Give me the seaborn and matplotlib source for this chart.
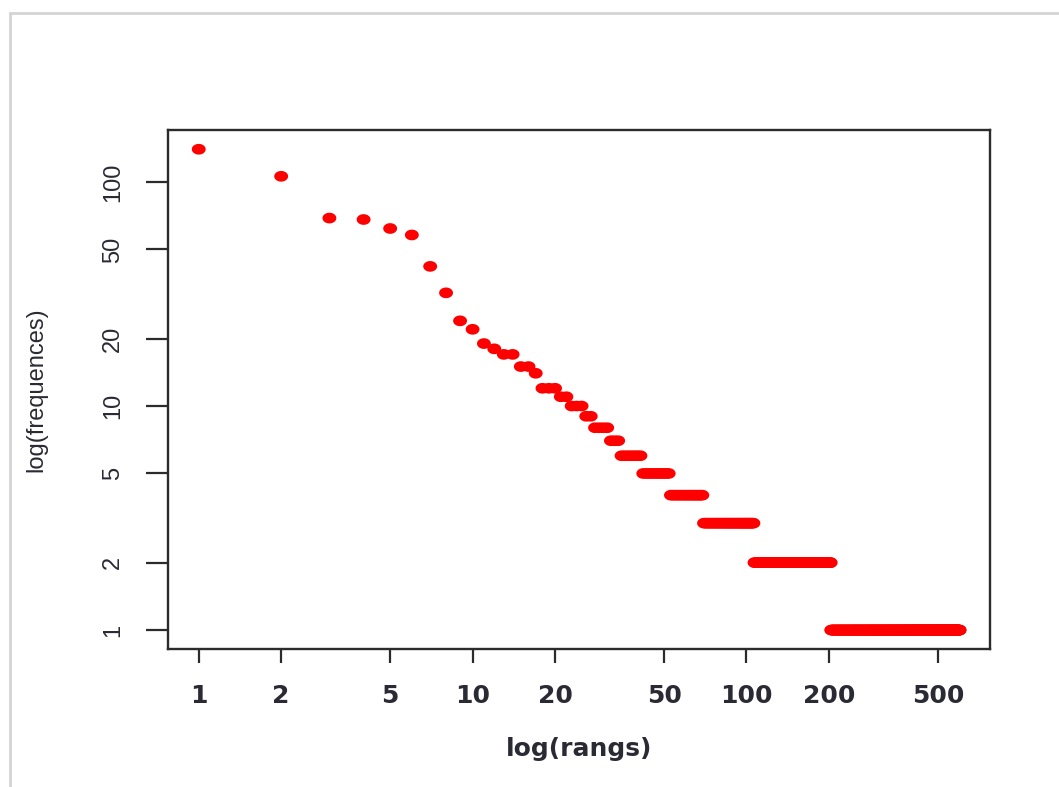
import numpy as np
import pandas as pd
import matplotlib
matplotlib.use("Agg")
import matplotlib.pyplot as plt
from matplotlib.path import Path
from matplotlib.lines import Line2D
import seaborn as sns

# ---- data (Zipf plot: rank vs frequency) ----
top_freqs = [140, 106, 69, 68, 62, 58, 42, 32, 24, 22, 19, 18]          # ranks 1..12
plateau_levels = [17, 15, 14, 12, 11, 10, 9, 8, 7, 6, 5, 4, 3, 2, 1]    # following frequencies
plateau_counts = [2, 2, 1, 3, 2, 3, 2, 4, 3, 7, 11, 17, 37, 97, 397]     # how many ranks share each
x_ticks = [1, 2, 5, 10, 20, 50, 100, 200, 500]
y_ticks = [1, 2, 5, 10, 20, 50, 100]
x_label = "log(rangs)"
y_label = "log(frequences)"

freqs = list(top_freqs)
for lvl, cnt in zip(plateau_levels, plateau_counts):
    freqs += [lvl] * cnt
ranks = np.arange(1, len(freqs) + 1)
df = pd.DataFrame({"rang": ranks, "freq": freqs})

sns.set_style("ticks")
plt.rcParams["font.family"] = ["Liberation Sans", "DejaVu Sans"]

W, H = 1059, 787
fig = plt.figure(figsize=(W / 100, H / 100), dpi=100)
L, R, T, B = 168.3, 990.0, 130.0, 649.3
ax = fig.add_axes([L / W, 1 - B / H, (R - L) / W, (B - T) / H])

# elliptical marker (reference is horizontally stretched)
t = np.linspace(0, 2 * np.pi, 60)
ell = Path(np.column_stack([np.cos(t), 0.77 * np.sin(t)]), closed=True)

sns.scatterplot(data=df, x="rang", y="freq", ax=ax, marker=ell, s=100,
                color="#ff0000", linewidth=0, edgecolor="none", legend=False)

ax.set_xscale("log")
ax.set_yscale("log")

def rlim(vals):
    lo, hi = np.log10(min(vals)), np.log10(max(vals))
    pad = 0.04 * (hi - lo)
    return 10 ** (lo - pad), 10 ** (hi + pad)

ax.set_xlim(*rlim(ranks))
ax.set_ylim(*rlim(freqs))

ax.xaxis.set_major_locator(matplotlib.ticker.FixedLocator(x_ticks))
ax.yaxis.set_major_locator(matplotlib.ticker.FixedLocator(y_ticks))
ax.xaxis.set_minor_locator(matplotlib.ticker.NullLocator())
ax.yaxis.set_minor_locator(matplotlib.ticker.NullLocator())
ax.set_xticklabels([str(v) for v in x_ticks])
ax.set_yticklabels([str(v) for v in y_ticks])

edge = "#2b2b2b"
for sp in ax.spines.values():
    sp.set_visible(True)
    sp.set_color(edge)
    sp.set_linewidth(1.7)

txt = "#2a2a35"
ax.tick_params(axis="x", length=10, width=1.6, color=edge, pad=15,
               labelsize=18, labelcolor=txt)
ax.tick_params(axis="y", length=16, width=1.6, color=edge, pad=16,
               labelsize=17, labelcolor=txt)
for lab in ax.get_xticklabels():
    lab.set_fontfamily(["DejaVu Sans"])
    lab.set_fontweight("bold")
for lab in ax.get_yticklabels():
    lab.set_rotation(90)
    lab.set_va("center")
    lab.set_ha("right")

ax.set_xlabel(x_label, fontsize=18, family=["DejaVu Sans"], fontweight="bold",
              color=txt, va="center")
ax.set_ylabel(y_label, fontsize=17, color=txt, va="center")
ax.xaxis.set_label_coords(0.5, (B - 749) / (B - T))
ax.yaxis.set_label_coords((36 - L) / (R - L), 0.5)

# light grey frame of the screenshot
fig.add_artist(Line2D([10 / W, 10 / W], [0, 1 - 13 / H], transform=fig.transFigure,
                      color="#d4d4d4", lw=2))
fig.add_artist(Line2D([10 / W, 1], [1 - 13 / H, 1 - 13 / H], transform=fig.transFigure,
                      color="#d4d4d4", lw=2))

fig.savefig("out.png", dpi=100, facecolor="white")
